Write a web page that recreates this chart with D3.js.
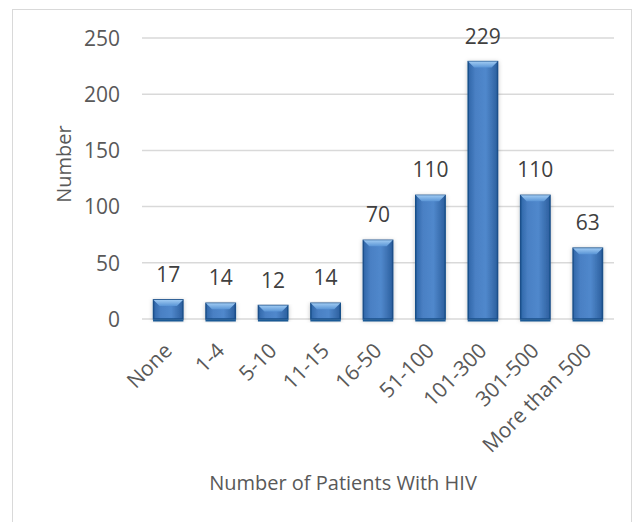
<!DOCTYPE html>
<html><head><meta charset="utf-8">
<script src="https://cdn.jsdelivr.net/npm/d3@7"></script>
<style>
html,body{margin:0;padding:0;background:#fff;}
svg text{font-family:"Open Sans",Lato,sans-serif;}
</style></head>
<body>
<svg id="chart" width="642" height="522"></svg>
<script>
const categories = ["None","1-4","5-10","11-15","16-50","51-100","101-300","301-500","More than 500"];
const values = [17,14,12,14,70,110,229,110,63];
const yTicks = [0,50,100,150,200,250];
const xTitle = "Number of Patients With HIV";
const yTitle = "Number";

const svg = d3.select("#chart");
const m = {left:142, right:614, top:38, bottom:319};

// frame
svg.append("rect").attr("x",12.5).attr("y",9.5).attr("width",619).attr("height",530)
  .attr("fill","none").attr("stroke","#d9d9d9").attr("stroke-width",1);

const x = d3.scaleBand().domain(categories).range([m.left,m.right]).paddingInner(0.44).paddingOuter(0.22);
const y = d3.scaleLinear().domain([0,250]).range([m.bottom,m.top]);

const defs = svg.append("defs");
const g1 = defs.append("linearGradient").attr("id","body").attr("x1","0").attr("x2","1").attr("y1","0").attr("y2","0");
g1.append("stop").attr("offset","0").attr("stop-color","#2f66a8");
g1.append("stop").attr("offset","0.25").attr("stop-color","#4a80c4");
g1.append("stop").attr("offset","0.6").attr("stop-color","#5088cc");
g1.append("stop").attr("offset","1").attr("stop-color","#2c5f9e");
const g2 = defs.append("linearGradient").attr("id","bev").attr("x1","0").attr("x2","0").attr("y1","0").attr("y2","1");
g2.append("stop").attr("offset","0").attr("stop-color","#9fcaf2");
g2.append("stop").attr("offset","1").attr("stop-color","#5a95d6");
const f = defs.append("filter").attr("id","sh").attr("x","-30%").attr("y","-10%").attr("width","160%").attr("height","130%");
f.append("feDropShadow").attr("dx",0).attr("dy",1).attr("stdDeviation",2).attr("flood-color","#000").attr("flood-opacity",0.25);

// gridlines
svg.append("g").selectAll("line").data(yTicks).join("line")
  .attr("x1",m.left).attr("x2",m.right)
  .attr("y1",d=>y(d)).attr("y2",d=>y(d))
  .attr("stroke","#d9d9d9").attr("stroke-width",1.5);

// y axis labels
const yAxis = d3.axisLeft(y).tickValues(yTicks).tickSize(0).tickPadding(0);
const ya = svg.append("g").attr("transform",`translate(120,0)`).call(yAxis);
ya.select(".domain").remove();
ya.selectAll("text").attr("font-size",21).attr("fill","#595959").attr("font-family","'Open Sans',sans-serif").attr("dy","0.35em");

// bars
const bw = x.bandwidth();
const bars = svg.append("g").selectAll("g").data(categories).join("g");
bars.append("rect")
  .attr("x",d=>x(d)).attr("y",(d,i)=>y(values[i]))
  .attr("width",bw).attr("height",(d,i)=>y(0)-y(values[i]))
  .attr("fill","url(#body)").attr("stroke","#1a4f8a").attr("stroke-width",1.5)
  .attr("filter","url(#sh)");
const bev = 6;
bars.append("path")
  .attr("d",(d,i)=>{
    const x0=x(d), x1=x(d)+bw, t=y(values[i]);
    return `M${x0},${t}L${x1},${t}L${x1-bev},${t+bev}L${x0+bev},${t+bev}Z`;
  })
  .attr("fill","url(#bev)");
bars.append("rect")
  .attr("x",d=>x(d)-0.5).attr("y",y(0)+0.5).attr("width",bw+1).attr("height",2)
  .attr("fill","#1a5a96");

// data labels
svg.append("g").selectAll("text").data(categories).join("text")
  .attr("x",d=>x(d)+bw/2).attr("y",(d,i)=>y(values[i])-18)
  .attr("text-anchor","middle").attr("font-size",21).attr("fill","#404040")
  .text((d,i)=>values[i]);

// x axis labels
const xAxis = d3.axisBottom(x).tickSize(0).tickPadding(0);
const xa = svg.append("g").attr("transform",`translate(0,${m.bottom})`).call(xAxis);
xa.select(".domain").remove();
xa.selectAll("text")
  .attr("font-size",21).attr("fill","#595959").attr("font-family","'Open Sans',sans-serif")
  .attr("text-anchor","end").attr("dy","0")
  .attr("transform","translate(5,33) rotate(-45)")
  .attr("y",0).attr("x",0);

// titles
svg.append("text").attr("x",343).attr("y",490).attr("text-anchor","middle")
  .attr("font-size",20).attr("fill","#595959").text(xTitle);
svg.append("text").attr("transform","translate(71,164) rotate(-90)").attr("text-anchor","middle")
  .attr("font-size",20).attr("fill","#595959").text(yTitle);
</script>
</body></html>
